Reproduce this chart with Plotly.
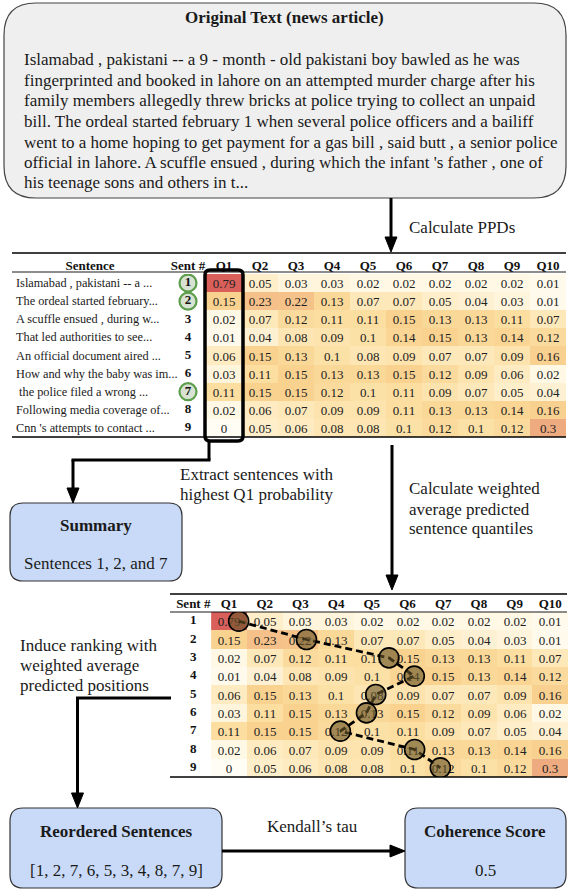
import plotly.graph_objects as go

W, H = 568, 890
FONT = "Liberation Serif, Times New Roman, serif"

# ---------------- data ----------------
quantiles = ["Q1", "Q2", "Q3", "Q4", "Q5", "Q6", "Q7", "Q8", "Q9", "Q10"]
sent_ids = [1, 2, 3, 4, 5, 6, 7, 8, 9]
sentences = [
    "Islamabad , pakistani -- a ...",
    "The ordeal started february...",
    "A scuffle ensued , during w...",
    "That led authorities to see...",
    "An official document aired ...",
    "How and why the baby was im...",
    " the police filed a wrong ...",
    "Following media coverage of...",
    "Cnn 's attempts to contact ...",
]
ppd = [
    [0.79, 0.05, 0.03, 0.03, 0.02, 0.02, 0.02, 0.02, 0.02, 0.01],
    [0.15, 0.23, 0.22, 0.13, 0.07, 0.07, 0.05, 0.04, 0.03, 0.01],
    [0.02, 0.07, 0.12, 0.11, 0.11, 0.15, 0.13, 0.13, 0.11, 0.07],
    [0.01, 0.04, 0.08, 0.09, 0.1, 0.14, 0.15, 0.13, 0.14, 0.12],
    [0.06, 0.15, 0.13, 0.1, 0.08, 0.09, 0.07, 0.07, 0.09, 0.16],
    [0.03, 0.11, 0.15, 0.13, 0.13, 0.15, 0.12, 0.09, 0.06, 0.02],
    [0.11, 0.15, 0.15, 0.12, 0.1, 0.11, 0.09, 0.07, 0.05, 0.04],
    [0.02, 0.06, 0.07, 0.09, 0.09, 0.11, 0.13, 0.13, 0.14, 0.16],
    [0, 0.05, 0.06, 0.08, 0.08, 0.1, 0.12, 0.1, 0.12, 0.3],
]
summary_ids = [1, 2, 7]
weighted_pos = [1.27, 3.17, 5.48, 6.19, 5.11, 4.85, 4.12, 6.2, 6.92]
article_lines = [
    "Islamabad , pakistani -- a 9 - month - old pakistani boy bawled as he was",
    "fingerprinted and booked in lahore on an attempted murder charge after his",
    "family members allegedly threw bricks at police trying to collect an unpaid",
    "bill. The ordeal started february 1 when several police officers and a bailiff",
    "went to a home hoping to get payment for a gas bill , said butt , a senior police",
    "official in lahore. A scuffle ensued , during which the infant 's father , one of",
    "his teenage sons and others in t...",
]
reordered = "[1, 2, 7, 6, 5, 3, 4, 8, 7, 9]"
coherence = "0.5"

# ---------------- helpers ----------------
def X(p):
    return p / W

def Y(p):
    return 1 - p / H

def rrect(x0, y0, x1, y1, r):
    pts = [
        ("M", [(x0 + r, y0)]), ("L", [(x1 - r, y0)]), ("Q", [(x1, y0), (x1, y0 + r)]),
        ("L", [(x1, y1 - r)]), ("Q", [(x1, y1), (x1 - r, y1)]),
        ("L", [(x0 + r, y1)]), ("Q", [(x0, y1), (x0, y1 - r)]),
        ("L", [(x0, y0 + r)]), ("Q", [(x0, y0), (x0 + r, y0)]),
    ]
    s = ""
    for cmd, ps in pts:
        s += cmd + " " + " ".join(f"{X(a):.5f},{Y(b):.5f}" for a, b in ps) + " "
    return s + "Z"

shapes = []
annotations = []

def box(x0, y0, x1, y1, r, fill, lw=1.2, color="#333333"):
    shapes.append(dict(type="path", xref="paper", yref="paper", path=rrect(x0, y0, x1, y1, r),
                       fillcolor=fill, line=dict(color=color, width=lw), layer="below"))

def hline(x0, x1, y, w=1.2):
    shapes.append(dict(type="line", xref="paper", yref="paper", x0=X(x0), x1=X(x1), y0=Y(y), y1=Y(y),
                       line=dict(color="black", width=w)))

def vline(x, y0, y1, w=3):
    shapes.append(dict(type="line", xref="paper", yref="paper", x0=X(x), x1=X(x), y0=Y(y0), y1=Y(y1),
                       line=dict(color="black", width=w)))

def head_down(x, y, hw=6, hl=15):
    path = f"M {X(x):.5f},{Y(y):.5f} L {X(x-hw):.5f},{Y(y-hl):.5f} L {X(x+hw):.5f},{Y(y-hl):.5f} Z"
    shapes.append(dict(type="path", xref="paper", yref="paper", path=path, fillcolor="black",
                       line=dict(color="black", width=1)))

def head_right(x, y, hw=6, hl=15):
    path = f"M {X(x):.5f},{Y(y):.5f} L {X(x-hl):.5f},{Y(y-hw):.5f} L {X(x-hl):.5f},{Y(y+hw):.5f} Z"
    shapes.append(dict(type="path", xref="paper", yref="paper", path=path, fillcolor="black",
                       line=dict(color="black", width=1)))

def text(x, y, s, size=17, bold=False, xanchor="left", color="#1a1a1a"):
    if bold:
        s = f"<b>{s}</b>"
    annotations.append(dict(x=X(x), y=Y(y), xref="paper", yref="paper", text=s, showarrow=False,
                            xanchor=xanchor, yanchor="middle",
                            font=dict(family=FONT, size=size, color=color)))

# ---------------- top article box ----------------
box(4, 3, 566, 198, 32, "#efefef", lw=1.2, color="#444444")
text(284, 17, "Original Text (news article)", size=17, bold=True, xanchor="center")
for i, line in enumerate(article_lines):
    text(22, 60 + i * 20.5, line, size=17)

# arrow: Calculate PPDs
vline(391, 198, 240)
head_down(391, 252)
text(407, 228, "Calculate PPDs", size=17)

# ---------------- colours ----------------
cscale = [
    [0.0, "#fffdf4"], [0.03, "#fff7e2"], [0.07, "#feecc4"], [0.13, "#fce0a4"],
    [0.19, "#f9d290"], [0.29, "#f5c089"], [0.38, "#efab80"], [1.0, "#d95f5b"],
]
cell_text = [[f"{v:g}" for v in row] for row in ppd]
qx = list(range(1, 11))
TS = 13

fig = go.Figure()

# top table heatmap
fig.add_trace(go.Heatmap(
    z=ppd, x=qx, y=sent_ids, text=cell_text, texttemplate="%{text}",
    textfont=dict(family=FONT, size=TS, color="#222222"),
    colorscale=cscale, zmin=0, zmax=0.79, showscale=False, hoverinfo="skip",
    xaxis="x", yaxis="y",
))
# green circles for summary sentences
fig.add_trace(go.Scatter(
    x=[0] * len(summary_ids), y=summary_ids, mode="markers",
    marker=dict(size=17, color="#d8e2d2", line=dict(color="#5c9e4b", width=2.2)),
    xaxis="x", yaxis="y", hoverinfo="skip",
))
fig.add_trace(go.Scatter(
    x=[0] * len(sent_ids), y=sent_ids, mode="text",
    text=[f"<b>{s}</b>" for s in sent_ids],
    textfont=dict(family=FONT, size=TS, color="#111111"),
    xaxis="x", yaxis="y", hoverinfo="skip",
))

# bottom table heatmap
fig.add_trace(go.Heatmap(
    z=ppd, x=qx, y=sent_ids, text=cell_text, texttemplate="%{text}",
    textfont=dict(family=FONT, size=TS, color="#222222"),
    colorscale=cscale, zmin=0, zmax=0.79, showscale=False, hoverinfo="skip",
    xaxis="x2", yaxis="y2",
))
fig.add_trace(go.Scatter(
    x=[0] * len(sent_ids), y=sent_ids, mode="text",
    text=[f"<b>{s}</b>" for s in sent_ids],
    textfont=dict(family=FONT, size=TS, color="#111111"),
    xaxis="x2", yaxis="y2", hoverinfo="skip",
))
fig.add_trace(go.Scatter(
    x=weighted_pos, y=sent_ids, mode="lines+markers",
    line=dict(color="black", width=2.8, dash="7px,4px"),
    marker=dict(size=20, color="rgba(105,85,40,0.62)", line=dict(color="black", width=1.6)),
    xaxis="x2", yaxis="y2", hoverinfo="skip",
))

# sentence texts in top table
for sid, s in zip(sent_ids, sentences):
    annotations.append(dict(x=X(14), y=sid, xref="paper", yref="y", text=s, showarrow=False,
                            xanchor="left", yanchor="middle",
                            font=dict(family=FONT, size=12.3, color="#1a1a1a")))

# table rules
hline(12, 566, 253, 1.6)
hline(12, 566, 272, 0.9)
hline(12, 566, 437, 1.6)
hline(170, 567, 594, 1.6)
hline(170, 567, 612, 0.9)
hline(170, 567, 777, 1.6)

# black box around Q1 column
shapes.append(dict(type="path", xref="paper", yref="paper", path=rrect(205, 270, 243, 441, 5),
                   fillcolor="rgba(0,0,0,0)", line=dict(color="black", width=3.5)))

# arrow to summary
vline(209, 441, 460)
hline(71.5, 210.5, 460, 3)
vline(73, 460, 492)
head_down(73, 503)
text(178, 474, "Extract sentences with", size=17)
text(178, 494, "highest Q1 probability", size=17)

# summary box
box(10, 503, 182, 581, 13, "#c9daf8", lw=1.2, color="#333333")
text(96, 525, "Summary", size=17, bold=True, xanchor="center")
text(96, 563, "Sentences 1, 2, and 7", size=17, xanchor="center")

# arrow to second table
vline(392, 445, 578)
head_down(392, 590)
text(407, 489, "Calculate weighted", size=17)
text(407, 509, "average predicted", size=17)
text(407, 528, "sentence quantiles", size=17)

# induce ranking
text(18, 645, "Induce ranking with", size=17)
text(18, 665, "weighted average", size=17)
text(18, 685, "predicted positions", size=17)
hline(76, 171, 698, 3)
vline(77.5, 698, 796)
head_down(77.5, 808)

# bottom boxes
box(10, 808, 222, 888, 13, "#c9daf8", lw=1.2, color="#333333")
text(116, 831, "Reordered Sentences", size=17, bold=True, xanchor="center")
text(116, 870, reordered, size=17, xanchor="center")
box(405, 808, 566, 888, 13, "#c9daf8", lw=1.2, color="#333333")
text(485, 831, "Coherence Score", size=17, bold=True, xanchor="center")
text(485, 870, coherence, size=17, xanchor="center")
hline(222, 392, 851, 3)
head_right(405, 851)
text(312, 826, "Kendall\u2019s tau", size=17, xanchor="center")

# ---------------- axes ----------------
hdr_font = dict(family=FONT, size=TS, color="#111111")
top_ticks = [-2.72, 0] + qx
top_text = ["<b>Sentence</b>", "<b>Sent #</b>"] + [f"<b>{q}</b>" for q in quantiles]
bot_ticks = [0] + qx
bot_text = ["<b>Sent #</b>"] + [f"<b>{q}</b>" for q in quantiles]

ax_common = dict(showgrid=False, zeroline=False, showline=False, ticks="", fixedrange=True)

fig.update_layout(
    width=W, height=H, margin=dict(l=0, r=0, t=0, b=0),
    paper_bgcolor="white", plot_bgcolor="rgba(0,0,0,0)", showlegend=False,
    xaxis=dict(domain=[X(12), X(566)], range=[1 + (12 - 224) / 36, 1 + (566 - 224) / 36],
               side="top", anchor="y", tickvals=top_ticks, ticktext=top_text, tickfont=hdr_font,
               **ax_common),
    yaxis=dict(domain=[Y(437), Y(274)], range=[9.5, 0.5], showticklabels=False, anchor="x",
               **ax_common),
    xaxis2=dict(domain=[X(170), 1.0], range=[1 + (170 - 229) / 35.7, 1 + (568 - 229) / 35.7],
                side="top", anchor="y2", tickvals=bot_ticks, ticktext=bot_text, tickfont=hdr_font,
                **ax_common),
    yaxis2=dict(domain=[Y(777), Y(612)], range=[9.5, 0.5], showticklabels=False, anchor="x2",
                **ax_common),
    shapes=shapes, annotations=annotations,
)

fig.write_html(
    "out.html",
    config={"displayModeBar": False},
    post_script="document.body.style.margin='0';document.body.style.overflow='hidden';",
)
